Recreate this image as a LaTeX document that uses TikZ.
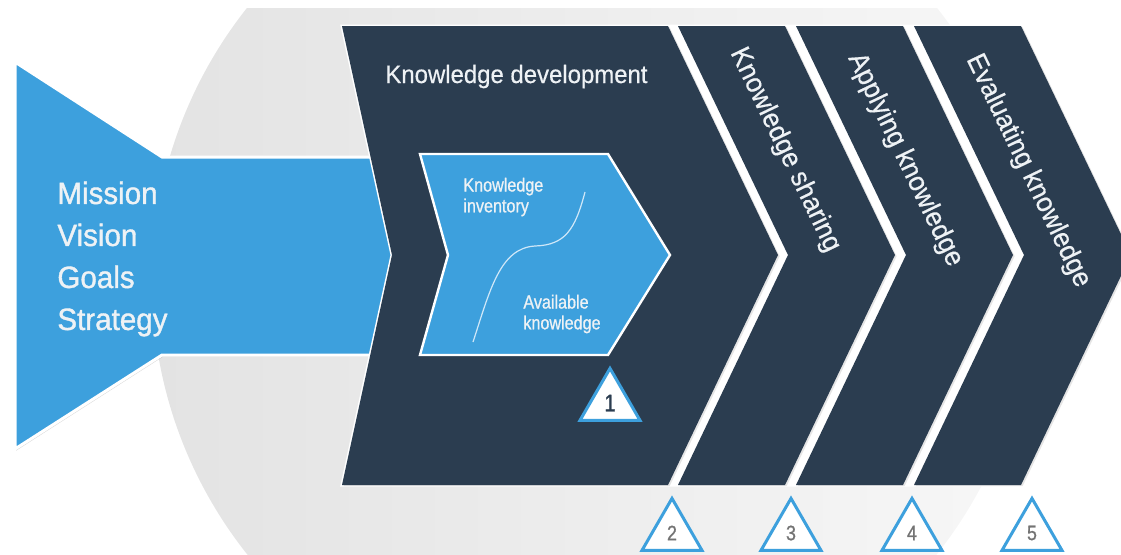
\documentclass[tikz,border=0pt]{standalone}
\usepackage{fontspec}
\setmainfont{Liberation Sans}
\newfontfamily\narrowfont{Liberation Sans}[FakeStretch=0.85, FakeBold=0.8]
\newfontfamily\heavyfont{Liberation Sans}[FakeStretch=0.96, FakeBold=1.2]
\newfontfamily\labelfont{Liberation Sans}[FakeStretch=0.95, FakeBold=0.5]
\usepackage{xcolor}
\usetikzlibrary{shapes.geometric, shadows}

\definecolor{kmblue}{HTML}{3DA0DD}
\definecolor{kmnavy}{HTML}{2B3D50}
\definecolor{kmcurve}{HTML}{CFE7F8}
\definecolor{kmtext}{HTML}{EEF2F5}

\begin{document}
\begin{tikzpicture}[
    x=0.5pt, y=-0.5pt,
    halo/.style={left color=black!11, right color=black!3},
    mission/.style={fill=kmblue, draw=white, line width=1.5pt, line join=miter, drop shadow={shadow xshift=0.6pt, shadow yshift=-0.8pt, opacity=0.3}},
    band/.style={fill=white, draw=white, line width=1.5pt, line join=miter},
    stage/.style={fill=kmnavy, drop shadow={shadow xshift=0.8pt, shadow yshift=-0.6pt, opacity=0.2}},
    inner/.style={fill=kmblue, draw=white, line width=1.2pt, line join=miter},
    bigtext/.style={text=kmtext, align=left, inner sep=0, font=\heavyfont\fontsize{15.4}{21}\selectfont},
    title/.style={text=kmtext, inner sep=0, font=\labelfont\fontsize{12.6}{15}\selectfont},
    small/.style={text=kmtext, align=left, inner sep=0, font=\narrowfont\fontsize{9.5}{10.4}\selectfont},
    phase/.style={text=kmtext, inner sep=0, rotate=-64.3, font=\labelfont\fontsize{13.8}{16}\selectfont},
    marker/.style={regular polygon, regular polygon sides=3, draw=kmblue, line width=1.5pt, fill=white, minimum size=34.6pt, inner sep=0, text=black!55, font=\narrowfont\fontsize{10.5}{12}\selectfont}
]
    \useasboundingbox (0,0) rectangle (1121,554);
    \clip (0,0) rectangle (1121,554);

    % Grey disc behind everything
    \begin{scope}
        \clip (0,8) rectangle (1121,554);
        \shade[halo] (592,281) circle (440);
    \end{scope}

    % Mission arrow
    \path[mission] (15,62) -- (162,157) -- (385,157) -- (400,255) -- (385,355) -- (162,355) -- (15,449) -- cycle;
    \node[bigtext, anchor=west] (goals) at (57,259) {Mission\\Vision\\Goals\\Strategy};

    % Chevron row (white band gives the gaps)
    \path[band] (342,26) -- (1021,26) -- (1131,255) -- (1021,485) -- (342,485) -- (392,255) -- cycle;
    \path[stage] (342,26) -- (668,26) -- (778,255) -- (668,485) -- (342,485) -- (392,255) -- cycle;
    \foreach \x in {678,796,914}
        \path[stage] (\x,26) -- ++(107,0) -- ++(110,229) -- ++(-110,230) -- ++(-107,0) -- ++(110,-230) -- cycle;

    % Knowledge development
    \node[title, anchor=base west] (develop) at (385,83) {Knowledge development};
    \path[inner] (420,154) -- (608,154) -- (670,255) -- (608,355) -- (420,355) -- (448,255) -- cycle;
    \draw[kmcurve, line width=0.6pt] (473,342) .. controls (490,290) and (500,248) .. (535,246) .. controls (565,245) and (575,230) .. (585,192);
    \node[small, anchor=west] (inventory) at (463,197) {Knowledge\\inventory};
    \node[small, anchor=west] (available) at (523,314) {Available\\knowledge};

    % Rotated stage labels
    \node[phase] (sharing) at (785,150) {Knowledge sharing};
    \node[phase] (applying) at (905,160) {Applying knowledge};
    \node[phase] (evaluating) at (1028,171) {Evaluating knowledge};

    % Numbered markers
    \node[marker, text=kmnavy, font=\narrowfont\fontsize{12}{14}\selectfont] (m1) at (610,403) {1};
    \node[marker] (m2) at (672,533) {2};
    \node[marker] (m3) at (791,533) {3};
    \node[marker] (m4) at (912,533) {4};
    \node[marker] (m5) at (1032,533) {5};
\end{tikzpicture}
\end{document}
